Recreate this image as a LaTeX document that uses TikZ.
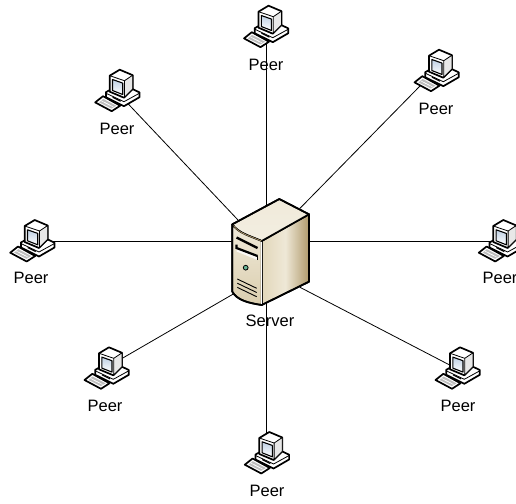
\documentclass[tikz,border=0pt]{standalone}
\usepackage{fontspec}
\setmainfont{Liberation Sans}
\definecolor{caselight}{RGB}{240, 234, 218}
\definecolor{casemid}{RGB}{226, 215, 186}
\definecolor{casedark}{RGB}{176, 154, 108}
\definecolor{ledgreen}{RGB}{105, 180, 150}
\definecolor{screenblue}{RGB}{190, 208, 228}
\definecolor{pcgrey}{RGB}{190, 190, 190}
\tikzset{
    link/.style={draw=black, line width=0.8pt},
    outline/.style={draw=black, line width=1.7pt, line join=round},
    thinline/.style={draw=black, line width=0.8pt, line join=round},
    iconlabel/.style={font=\fontsize{16.5}{16.5}\selectfont, text=black, inner sep=0pt},
    peericon/.pic={
        % Keyboard
        \draw[outline, fill=white] (-20.5,11.7) -- (-12.7,5.5) -- (4.5,15) -- (-4,20.5) -- cycle;
        \fill[pcgrey] (-16.5,11.7) -- (-12.5,8.2) -- (0.5,15) -- (-4.2,17.8) -- cycle;
        \foreach \kx/\ky in {-14.5/10, -11.5/11.5, -8.5/13}
            \draw[white, line width=0.5pt] (\kx,\ky) -- ++(6,3.2);
        % Base unit
        \draw[outline, fill=white] (-9.8,1.5) -- (-5.3,-1) -- (8.3,6) -- (16.7,-1.7) -- (23.8,1.7) -- (23.8,6.5) -- (8.3,15.5) -- (-9.8,6.5) -- cycle;
        \draw[thinline] (-9.8,2.5) -- (8.3,11) -- (23.8,2.5);
        \draw[black, line width=1.2pt] (-3,6.5) -- (5,10.5);
        % Monitor
        \draw[outline, fill=white] (-6,-15) -- (4,-21) -- (17,-15.5) -- (17,-1.7) -- (8.3,7) -- (-6,1) -- cycle;
        \draw[thinline, fill=pcgrey!35] (8.8,-10) -- (17,-15.5) -- (17,-1.7) -- (8.8,6.5) -- cycle;
        \draw[line width=1.1pt, draw=black, line join=round, top color=screenblue, bottom color=white] (-3.2,-11.2) -- (7,-7.6) -- (7,3.8) -- (-3.2,-0.2) -- cycle;
        \draw[thinline] (-6,-15) -- (8.8,-10);
    },
    serverbox/.pic={
        % Side and top faces
        \draw[outline, left color=casemid, right color=casedark, middle color=caselight!90!casemid] (-8.3,-9) -- (39,-35.7) -- (39,31.7) -- (-8.3,55) -- cycle;
        \draw[outline, top color=caselight, bottom color=caselight!80!white] (-37.7,-25.7) -- (9.3,-51) -- (39,-35.7) -- (-8.3,-9) .. controls (-20,-14) and (-32,-17) .. cycle;
        % Front face
        \draw[outline, top color=caselight, bottom color=casemid!85!casedark] (-37.7,-25.7) .. controls (-32,-17) and (-20,-14) .. (-8.3,-9) -- (-8.3,55) .. controls (-22,53) and (-33,50) .. (-37.7,41.7) -- cycle;
        \draw[white, line width=0.8pt] (-8.3,-8) -- (-8.3,54);
        \draw[casedark, line width=0.7pt] (-36.5,-24.5) .. controls (-32,-17) and (-20,-14) .. (-8.5,-9);
        % Drive slots
        \draw[black, line width=2.4pt] (-33.5,-12.5) -- (-12.5,-2);
        \fill[white!85!casemid] (-33.5,-3) -- (-12.5,6) -- (-12.5,10) -- (-33.5,1.5) -- cycle;
        \draw[black, line width=1pt] (-12.5,10) -- (-12.5,6);
        \draw[black, line width=2.2pt] (-33.5,-5.5) -- (-33.5,-2) -- (-12.5,6);
        % Power light
        \draw[black, line width=0.8pt, fill=ledgreen] (-24.3,17.7) circle (2.4);
        % Vents
        \foreach \v in {0,4.2,8.4}
            \draw[black, line width=0.9pt] (-32.7,29+\v) -- (-13.3,38.3+\v);
        % Outer edge again
        \draw[outline] (-37.7,-25.7) -- (9.3,-51) -- (39,-35.7) -- (39,31.7) -- (-8.3,55) .. controls (-22,53) and (-33,50) .. (-37.7,41.7) -- cycle;
    }
}
\begin{document}
\begin{tikzpicture}[x=1pt, y=-1pt]
    \useasboundingbox (0,0) rectangle (516,503);

    % Server and where the links disappear behind it
    \coordinate (server) at (270,250);
    \foreach \name/\x/\y in {sTop/266.5/215, sUR/300/208.3, sRight/300/241, sLR/300/287.3, sBottom/266.5/290, sLL/233.3/294, sLeft/240/241, sUL/238/220}
        \coordinate (\name) at (\x,\y);

    % Peers
    \foreach \name/\x/\y in {pTop/264.5/26.7, pUR/435/70.7, pRight/499.3/241, pLR/456/368.3, pBottom/265.3/453, pLL/105/368.3, pLeft/30.7/241, pUL/115.7/90.7}
        \coordinate (\name) at (\x,\y);

    % Links
    \draw[link] (sTop) -- (sTop |- pTop);
    \draw[link] (sBottom) -- (sBottom |- pBottom);
    \foreach \a/\b in {sUR/pUR, sRight/pRight, sLR/pLR, sLL/pLL, sLeft/pLeft, sUL/pUL}
        \draw[link] (\a) -- (\b);

    % Icons
    \foreach \name in {pTop, pUR, pRight, pLR, pBottom, pLL, pLeft, pUL}
        \pic at (\name) {peericon};
    \pic at (server) {serverbox};

    % Labels
    \foreach \name/\x/\y in {lTop/266/65, lUR/436/109, lRight/500/278, lLR/458/406, lBottom/267/491, lLL/105/406, lLeft/31/278, lUL/117/129}
        \node[iconlabel] (\name) at (\x,\y) {Peer};
    \node[iconlabel] (lServer) at (270,321) {Server};
\end{tikzpicture}
\end{document}
